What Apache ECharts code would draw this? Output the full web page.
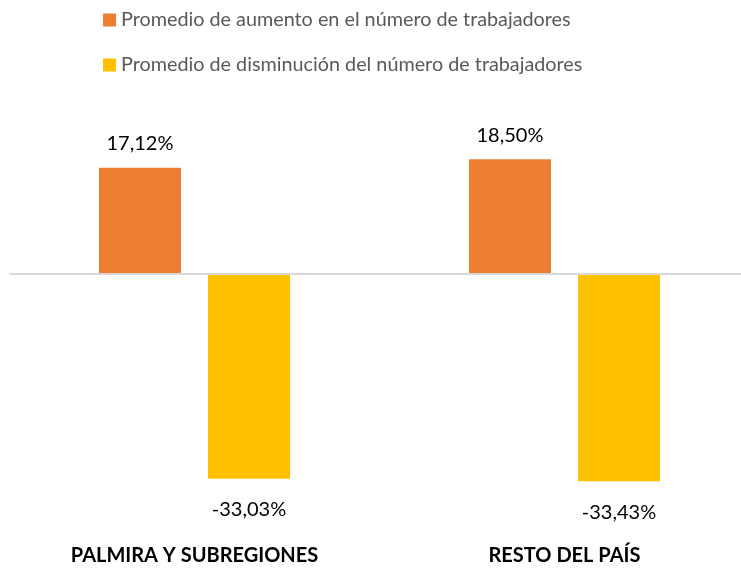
<!DOCTYPE html>
<html lang="es">
<head>
    <meta charset="UTF-8">
    <title>Promedio de variación del número de trabajadores</title>
    <script src="https://cdn.jsdelivr.net/npm/echarts@6/dist/echarts.min.js"></script>
    <style>
        html, body { margin: 0; padding: 0; background: #fff; }
    </style>
</head>
<body>
<div id="main" style="width: 741px; height: 568px;"></div>
<script>
    // datos
    var categorias = ['PALMIRA Y SUBREGIONES', 'RESTO DEL PAÍS'];
    var nombreAumento = 'Promedio de aumento en el número de trabajadores';
    var nombreDisminucion = 'Promedio de disminución del número de trabajadores';
    var aumento = [17.12, 18.50];
    var disminucion = [-33.03, -33.43];

    var fuente = 'Lato, "Open Sans", sans-serif';

    function fmt(p) {
        return p.value.toFixed(2).replace('.', ',') + '%';
    }

    var mychart = echarts.init(document.getElementById('main'));

    mychart.setOption({
        animation: false,
        textStyle: { fontFamily: fuente },
        legend: {
            orient: 'vertical',
            left: 103,
            top: 10,
            padding: 0,
            itemWidth: 13,
            itemHeight: 13,
            itemGap: 25,
            icon: 'rect',
            textStyle: { fontFamily: fuente, fontSize: 19.8, color: '#595959' },
            data: [nombreAumento, nombreDisminucion]
        },
        // el área de trazado sobresale un poco por la derecha, como en el original
        grid: {
            left: 9.5, width: 740, top: 150, height: 372,
            outerBoundsMode: 'none', containLabel: false
        },
        xAxis: {
            type: 'category',
            data: categorias,
            axisLine: { show: false, onZero: false },
            axisTick: { show: false },
            axisLabel: {
                margin: 24,
                fontFamily: fuente,
                fontSize: 20,
                fontWeight: 'bold',
                color: '#000'
            }
        },
        yAxis: {
            type: 'value',
            min: -40,
            max: 20,
            show: false,
            splitLine: { show: false }
        },
        series: [
            {
                name: nombreAumento,
                type: 'bar',
                data: aumento,
                barWidth: 82,
                barGap: '33%',
                itemStyle: { color: '#ED7D31' },
                label: {
                    show: true,
                    position: 'top',
                    distance: 14,
                    fontFamily: fuente,
                    fontSize: 20,
                    color: '#000',
                    formatter: fmt
                },
                markLine: {
                    silent: true,
                    symbol: 'none',
                    label: { show: false },
                    lineStyle: { color: '#d9d9d9', width: 2, type: 'solid' },
                    data: [{ yAxis: 0 }]
                }
            },
            {
                name: nombreDisminucion,
                type: 'bar',
                data: disminucion,
                barWidth: 82,
                barGap: '33%',
                itemStyle: { color: '#FFC000' },
                label: {
                    show: true,
                    position: 'bottom',
                    distance: 21,
                    fontFamily: fuente,
                    fontSize: 20,
                    color: '#000',
                    formatter: fmt
                }
            }
        ]
    });
</script>
</body>
</html>
